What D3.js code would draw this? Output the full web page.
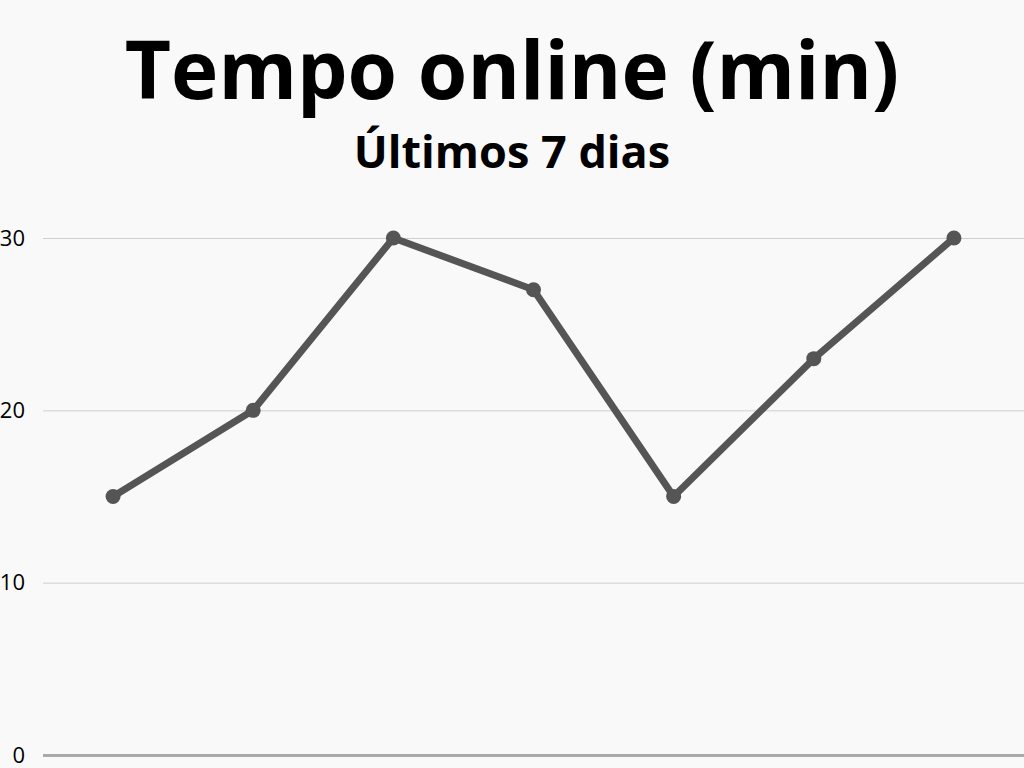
<!DOCTYPE html>
<html><head><meta charset="utf-8">
<script src="https://cdn.jsdelivr.net/npm/d3@7"></script>
<style>
html,body{margin:0;padding:0;background:#f9f9f9;}
svg{display:block;font-family:"Open Sans",sans-serif;}
</style></head>
<body>
<svg id="c" width="1024" height="768"></svg>
<script>
const days = ["D1","D2","D3","D4","D5","D6","D7"];
const minutes = [15, 20, 30, 27, 15, 23, 30];
const yTicks = [0, 10, 20, 30];
const title = "Tempo online (min)";
const subtitle = "Últimos 7 dias";

const svg = d3.select("#c");
svg.append("rect").attr("width",1024).attr("height",768).attr("fill","#f9f9f9");

const x = d3.scaleBand().domain(days).range([43, 1024]);
const y = d3.scaleLinear().domain([0, 30]).range([755, 238]);

svg.append("text").attr("x",512).attr("y",99).attr("text-anchor","middle")
  .attr("font-size",80).attr("font-weight",700).attr("fill","#000").text(title);
svg.append("text").attr("x",512).attr("y",168).attr("text-anchor","middle")
  .attr("font-size",45).attr("font-weight",700).attr("fill","#000").text(subtitle);

const yAxis = d3.axisLeft(y).tickValues(yTicks).tickSize(-(1024-43)).tickPadding(18).tickFormat(d3.format("d"));
const gy = svg.append("g").attr("transform","translate(43,0)").call(yAxis);
gy.select(".domain").remove();
gy.selectAll(".tick line").attr("stroke", d => d === 0 ? "#aaaaaa" : "#cfcfcf").attr("stroke-width", d => d === 0 ? 3 : 1);
gy.selectAll(".tick text").attr("font-size",22).attr("fill","#000").attr("font-family","Open Sans, sans-serif");

const line = d3.line().x((d,i)=>x(days[i])+x.bandwidth()/2).y(d=>y(d));
svg.append("path").datum(minutes).attr("d",line).attr("fill","none")
  .attr("stroke","#555555").attr("stroke-width",7).attr("stroke-linejoin","round");
svg.selectAll("circle.pt").data(minutes).enter().append("circle").attr("class","pt")
  .attr("cx",(d,i)=>x(days[i])+x.bandwidth()/2).attr("cy",d=>y(d)).attr("r",7.5).attr("fill","#555555");
</script>
</body></html>
